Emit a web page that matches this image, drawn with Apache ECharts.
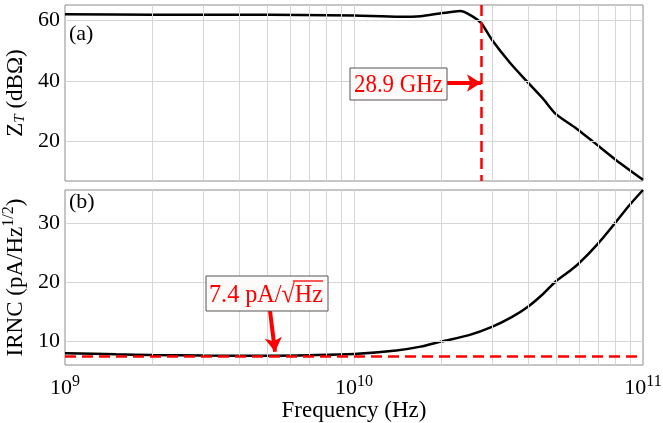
<!DOCTYPE html>
<html>
<head>
<meta charset="utf-8">
<script src="https://cdn.jsdelivr.net/npm/echarts@6/dist/echarts.min.js"></script>
<style>
  html, body { margin: 0; padding: 0; background: #fff; }
  #chart { width: 663px; height: 423px; }
</style>
</head>
<body>
<div id="chart"></div>
<script>
const FONT = '"Liberation Serif", "Times New Roman", serif';

// (a) transimpedance gain Z_T, dBOhm
const ztFreqGHz = [1, 2, 4, 6.5, 10, 14.4, 17, 19.8, 22, 23.3, 25, 27.5, 30, 34.7, 39.5, 45, 50, 58.9, 67, 81, 100];
const ztDb = [62.0, 61.9, 61.9, 61.8, 61.6, 61.2, 61.4, 62.3, 62.9, 63.1, 62.0, 59.2, 53.6, 45.9, 40.0, 34.2, 29.0, 24.2, 20.0, 13.7, 7.3];

// (b) input referred noise current density, pA/sqrt(Hz)
const irncFreqGHz = [1, 1.5, 2, 3, 5, 7, 10, 14, 17, 20, 25, 30, 35, 40, 45, 50, 55, 60, 70, 80, 90, 100];
const irncVal = [8.05, 7.85, 7.75, 7.65, 7.62, 7.7, 7.9, 8.5, 9.15, 10.0, 11.1, 12.5, 14.1, 15.9, 18.0, 20.2, 21.7, 23.2, 26.6, 30.0, 33.1, 35.6];

const bandwidthLabel = '28.9 GHz';
const bandwidthLineGHz = 27.5;   // where the dashed marker sits in the figure
const noiseFloorLine = 7.5;

const xTicks = [1e9, 1e10, 1e11];
const ztTicks = [20, 40, 60];
const irncTicks = [10, 20, 30];

const toHz = (f) => f * 1e9;
const ztData = ztFreqGHz.map((f, i) => [toHz(f), ztDb[i]]);
const irncData = irncFreqGHz.map((f, i) => [toHz(f), irncVal[i]]);

// log grid lines: 2..9 x each decade, plus 1e10
const vGrid = [];
for (let d = 9; d <= 10; d++) {
  for (let m = 1; m <= 9; m++) {
    if (d === 9 && m === 1) continue;
    vGrid.push(m * Math.pow(10, d));
  }
}

const gridColor = '#d6d6d6';
function gridMarks(yVals) {
  return {
    silent: true,
    symbol: 'none',
    label: { show: false },
    lineStyle: { color: gridColor, width: 1, type: 'solid' },
    data: vGrid.map((v) => ({ xAxis: v })).concat(yVals.map((v) => ({ yAxis: v })))
  };
}

const tickLabel = { fontFamily: FONT, fontSize: 22, color: '#000' };
const ZT_MIN = 6.9, ZT_MAX = 65.1;

const chart = echarts.init(document.getElementById('chart'));

chart.setOption({
  backgroundColor: '#fff',
  animation: false,
  grid: [
    { left: 65, top: 5, width: 578, height: 176, show: true, borderColor: '#8c8c8c', borderWidth: 1,
      backgroundColor: '#fff', outerBoundsMode: 'none', containLabel: false },
    { left: 65, top: 190, width: 578, height: 175, show: true, borderColor: '#8c8c8c', borderWidth: 1,
      backgroundColor: '#fff', outerBoundsMode: 'none', containLabel: false }
  ],
  xAxis: [
    {
      type: 'log', gridIndex: 0, min: 1e9, max: 1e11, logBase: 10,
      axisLine: { show: false }, axisTick: { show: false }, axisLabel: { show: false }, splitLine: { show: false }
    },
    {
      type: 'log', gridIndex: 1, min: 1e9, max: 1e11, logBase: 10,
      axisLine: { show: false }, axisTick: { show: false }, splitLine: { show: false },
      name: 'Frequency (Hz)', nameLocation: 'middle', nameGap: 32,
      nameTextStyle: { fontFamily: FONT, fontSize: 23, color: '#000' },
      axisLabel: {
        customValues: xTicks,
        margin: 9,
        formatter: (v) => '{b|10}{s|' + Math.round(Math.log10(v)) + '}',
        rich: {
          b: { fontFamily: FONT, fontSize: 22, color: '#000', verticalAlign: 'bottom', lineHeight: 25 },
          s: { fontFamily: FONT, fontSize: 16, color: '#000', verticalAlign: 'top', lineHeight: 25, padding: [0, 0, 8, 0] }
        }
      }
    }
  ],
  yAxis: [
    {
      type: 'value', gridIndex: 0, min: ZT_MIN, max: ZT_MAX,
      axisLine: { show: false }, splitLine: { show: false },
      axisTick: { show: false },
      axisLabel: Object.assign({ customValues: ztTicks, margin: 5 }, tickLabel),
      name: '{z|Z}{t|T}{n| (dBΩ)}', nameLocation: 'middle', nameGap: 32, nameRotate: 90,
      nameTextStyle: {
        rich: {
          z: { fontFamily: FONT, fontSize: 23, color: '#000', verticalAlign: 'bottom', lineHeight: 26 },
          t: { fontFamily: FONT, fontSize: 15, fontStyle: 'italic', color: '#000', verticalAlign: 'bottom', lineHeight: 26, padding: [6, 0, 0, 0] },
          n: { fontFamily: FONT, fontSize: 23, color: '#000', verticalAlign: 'bottom', lineHeight: 26 }
        }
      }
    },
    {
      type: 'value', gridIndex: 1, min: 6.05, max: 35.6,
      axisLine: { show: false }, splitLine: { show: false },
      axisTick: { show: false },
      axisLabel: Object.assign({ customValues: irncTicks, margin: 5 }, tickLabel),
      name: '{n|IRNC (pA/Hz}{s|1/2}{n|)}', nameLocation: 'middle', nameGap: 32, nameRotate: 90,
      nameTextStyle: {
        rich: {
          n: { fontFamily: FONT, fontSize: 23, color: '#000', verticalAlign: 'bottom', lineHeight: 26 },
          s: { fontFamily: FONT, fontSize: 16, color: '#000', verticalAlign: 'top', lineHeight: 26, padding: [0, 0, 8, 0] }
        }
      }
    }
  ],
  series: [
    { type: 'line', xAxisIndex: 0, yAxisIndex: 0, data: [], z: 1, markLine: gridMarks(ztTicks) },
    { type: 'line', xAxisIndex: 1, yAxisIndex: 1, data: [], z: 1, markLine: gridMarks(irncTicks) },
    {
      name: 'ZT', type: 'line', xAxisIndex: 0, yAxisIndex: 0, data: ztData,
      showSymbol: false, smooth: 0.25, z: 3,
      lineStyle: { color: '#000', width: 2.5 },
      markLine: {
        silent: true, z: 5, label: { show: false },
        data: [
          [
            { coord: [toHz(bandwidthLineGHz), ZT_MAX], symbol: 'none' },
            { coord: [toHz(bandwidthLineGHz), ZT_MIN], symbol: 'none',
              lineStyle: { color: '#ff0000', width: 2.5, type: [11, 6] } }
          ],
          [
            { coord: [2.1e10, 39.3], symbol: 'none' },
            { coord: [toHz(bandwidthLineGHz), 39.3], symbol: 'arrow', symbolSize: [13, 14],
              lineStyle: { color: '#ff0000', width: 4, type: 'solid' } }
          ]
        ]
      }
    },
    {
      name: 'IRNC', type: 'line', xAxisIndex: 1, yAxisIndex: 1, data: irncData,
      showSymbol: false, smooth: 0.3, z: 3,
      lineStyle: { color: '#000', width: 2.5 },
      markLine: {
        silent: true, z: 5, label: { show: false },
        data: [
          [
            { coord: [1e9, noiseFloorLine], symbol: 'none' },
            { coord: [1e11, noiseFloorLine], symbol: 'none',
              lineStyle: { color: '#ff0000', width: 2.5, type: [11, 6] } }
          ],
          [
            { coord: [5.12e9, 15.2], symbol: 'none' },
            { coord: [5.33e9, 8.3], symbol: 'arrow', symbolSize: [13, 14],
              lineStyle: { color: '#ff0000', width: 4, type: 'solid' } }
          ]
        ]
      }
    }
  ]
});

// annotation boxes
const ctx = document.createElement('canvas').getContext('2d');
const noiseFont = '26px "Liberation Serif"';
ctx.font = noiseFont;
const noiseHead = '7.4 pA/\u221A';
const noiseTail = 'Hz';
const wHead = ctx.measureText(noiseHead).width;
const wTail = ctx.measureText(noiseTail).width;
const sqrtW = ctx.measureText('\u221A').width;
const noiseLeft = -(wHead + wTail) / 2;

chart.setOption({
  graphic: [
    { type: 'text', left: 69, top: 23, z: 50,
      style: { text: '(a)', fontFamily: FONT, fontSize: 22, fill: '#000' } },
    { type: 'text', left: 69, top: 191, z: 50,
      style: { text: '(b)', fontFamily: FONT, fontSize: 22, fill: '#000' } },
    { type: 'rect', z: 50, shape: { x: 350, y: 68, width: 97, height: 32 },
      style: { fill: '#fdfafa', stroke: '#555', lineWidth: 1 } },
    { type: 'text', z: 51, x: 398.5, y: 85, scaleX: 0.88,
      style: { text: bandwidthLabel, fontFamily: FONT, fontSize: 26, fill: '#ff0000', align: 'center', verticalAlign: 'middle' } },
    { type: 'rect', z: 50, shape: { x: 206, y: 276, width: 122, height: 35 },
      style: { fill: '#fdfafa', stroke: '#555', lineWidth: 1 } },
    {
      type: 'group', z: 51, x: 266, y: 294, scaleX: 0.93,
      children: [
        { type: 'text', z: 51, x: noiseLeft, y: 1,
          style: { text: noiseHead + noiseTail, font: noiseFont, fill: '#ff0000', align: 'left', verticalAlign: 'middle' } },
        { type: 'line', z: 51,
          shape: { x1: noiseLeft + wHead - sqrtW * 0.15, y1: -13, x2: noiseLeft + wHead + wTail, y2: -13 },
          style: { stroke: '#ff0000', lineWidth: 1.3 } }
      ]
    }
  ]
});
</script>
</body>
</html>
